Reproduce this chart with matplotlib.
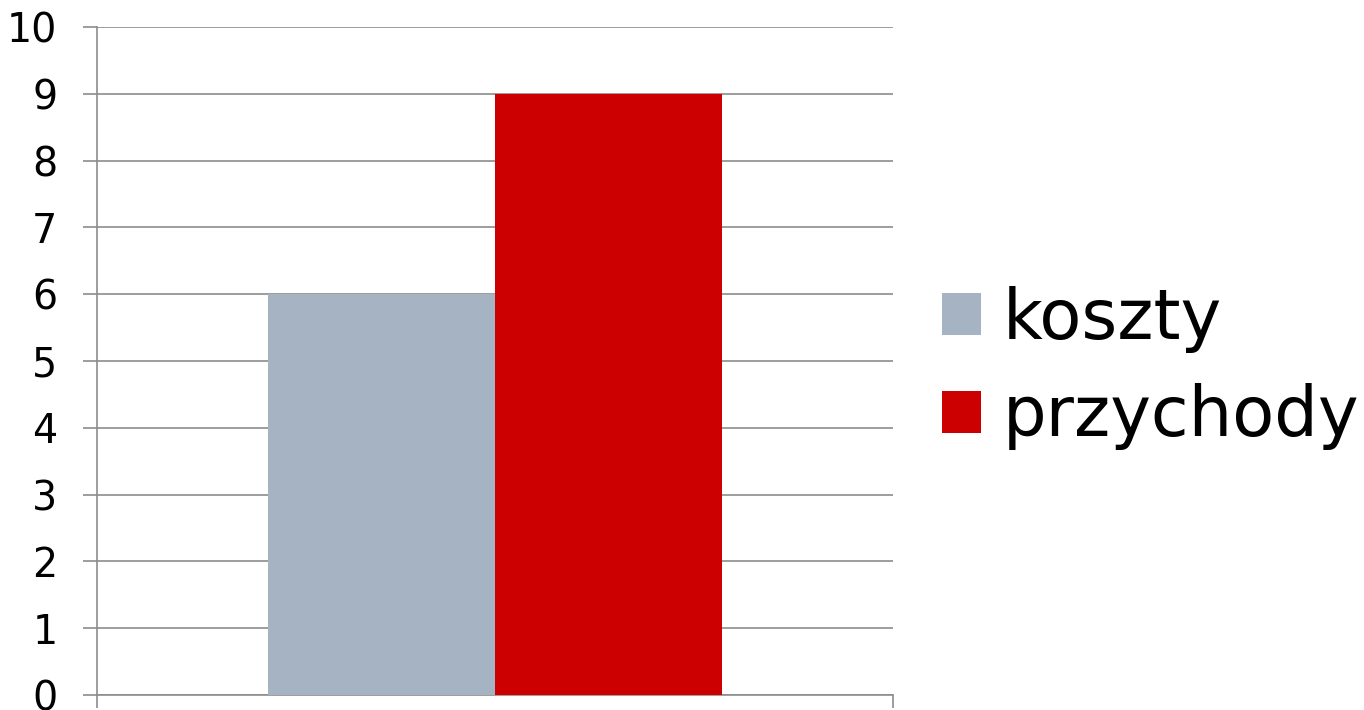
import matplotlib
matplotlib.use("Agg")
import matplotlib.pyplot as plt
from matplotlib.patches import Patch

series = ["koszty", "przychody"]
values = [6, 9]
colors = ["#A5B3C2", "#CC0000"]
yticks = [0, 1, 2, 3, 4, 5, 6, 7, 8, 9, 10]

plt.rcParams['font.family'] = ['DejaVu Sans']

fig = plt.figure(figsize=(13.64, 7.10), dpi=100)
ax = fig.add_axes([97/1364, 15/710, 796/1364, 668/710])

width = 0.2856
center = 0.5
offsets = [-width/2, width/2]
for s, v, c, o in zip(series, values, colors, offsets):
    ax.bar(center + o, v, width=width, color=c, label=s, zorder=3)

ax.set_xlim(0, 1)
ax.set_ylim(0, 10)
ax.set_yticks(yticks)
ax.set_yticklabels([str(t) for t in yticks], fontsize=28.5)
ax.set_xticks([0, 1])
ax.set_xticklabels(["", ""])
ax.yaxis.grid(True, color="#8C8C8C", linewidth=1.2, zorder=0)
ax.tick_params(axis='y', length=10, width=1.2, color="#8C8C8C", pad=18.5)
ax.tick_params(axis='x', length=9.5, width=1.2, color="#8C8C8C")
for sp in ["top", "right"]:
    ax.spines[sp].set_visible(False)
for sp in ["left", "bottom"]:
    ax.spines[sp].set_color("#8C8C8C")
    ax.spines[sp].set_linewidth(1.2)

handles = [Patch(facecolor=c, edgecolor='none') for c in colors]
fig.legend(handles, series, loc='center left', bbox_to_anchor=(942/1364, 1 - 368/710),
           frameon=False, fontsize=49.5, handlelength=0.56, handleheight=0.56,
           handletextpad=0.32, labelspacing=0.45, borderpad=0, borderaxespad=0)

fig.savefig("out.png", dpi=100, facecolor="white")
